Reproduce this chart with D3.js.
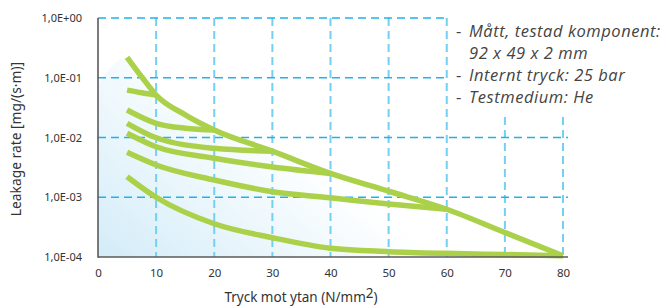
<!DOCTYPE html>
<html>
<head>
<meta charset="utf-8">
<script src="https://cdn.jsdelivr.net/npm/d3@7"></script>
<style>
  body { margin: 0; background: #fff; }
  svg { display: block; }
  text { font-family: "Noto Sans", sans-serif; fill: #333; }
</style>
</head>
<body>
<svg id="chart" width="667" height="308"></svg>
<script>
// tick values and labels
xTicks = [0, 10, 20, 30, 40, 50, 60, 70, 80]
yTicks = [1e-4, 1e-3, 1e-2, 1e-1, 1]
yTickLabels = ["1,0E-04", "1,0E-03", "1,0E-02", "1,0E-01", "1,0E+00"]

// curves: [pressure, leakage]
envelope = [[5, 0.22], [7.5, 0.104], [10, 0.0514], [15, 0.024], [20, 0.0134], [30, 0.0059],
            [40, 0.0025], [50, 0.00126], [60, 0.00063], [70, 0.000257], [80, 0.000105]]
curve2 = [[5, 0.062], [7.5, 0.056], [10, 0.0514]]
curve3 = [[5, 0.0289], [10, 0.0173], [15, 0.0143], [20, 0.0134]]
curve4 = [[5, 0.0173], [10, 0.0099], [20, 0.0066], [30, 0.0059]]
curve5 = [[5, 0.0118], [10, 0.0070], [20, 0.0045], [30, 0.0032], [40, 0.0025]]
curve6 = [[5, 0.00565], [10, 0.00347], [20, 0.00194], [30, 0.00124], [40, 0.00098], [50, 0.00077], [60, 0.00063]]
curve7 = [[5, 0.00221], [10, 0.001], [20, 0.00036], [30, 0.00021], [40, 0.00014], [50, 0.000123],
          [60, 0.000115], [70, 0.00011], [80, 0.000105]]

notes = [
  {dash: "-", text: "Mått, testad komponent:"},
  {dash: "", text: "92 x 49 x 2 mm"},
  {dash: "-", text: "Internt tryck: 25 bar"},
  {dash: "-", text: "Testmedium: He"}
]

svg = d3.select("#chart")
x = d3.scaleLinear().domain([0, 80]).range([98, 563])
y = d3.scaleLog().domain([1e-4, 1]).range([257, 18])

// gradient fill under the upper curve
defs = svg.append("defs")
grad = defs.append("linearGradient").attr("id", "fillgrad")
  .attr("gradientUnits", "userSpaceOnUse")
  .attr("x1", 98).attr("y1", 257).attr("x2", 260).attr("y2", 50)
grad.append("stop").attr("offset", 0).attr("stop-color", "#d3ecf8")
grad.append("stop").attr("offset", 0.45).attr("stop-color", "#ecf7fc")
grad.append("stop").attr("offset", 0.8).attr("stop-color", "#ffffff")

fillData = [[x.domain()[0], 0.08]].concat(envelope)
svg.append("path").datum(fillData)
  .attr("fill", "url(#fillgrad)")
  .attr("d", d3.area().x(d => x(d[0])).y0(y(1e-4)).y1(d => y(d[1])).curve(d3.curveMonotoneX))

// grid
grid = svg.append("g").attr("id", "grid")
grid.selectAll(".vgrid").data(xTicks.slice(1)).join("line").attr("class", "vgrid")
  .attr("x1", d => x(d)).attr("x2", d => x(d))
  .attr("y1", d => d > 60 ? 117 : y(1)).attr("y2", y(1e-4))
  .attr("stroke", "#74cff3").attr("stroke-width", 2).attr("stroke-dasharray", "8,5")
grid.selectAll(".hgrid").data(yTicks.slice(1)).join("line").attr("class", "hgrid")
  .attr("x1", x(0)).attr("x2", d => d > 0.05 ? x(60) : x(80) + 5)
  .attr("y1", d => y(d)).attr("y2", d => y(d))
  .attr("stroke", "#1fb3ec").attr("stroke-width", 1.5).attr("stroke-dasharray", "8,5")

// curves
line = d3.line().x(d => x(d[0])).y(d => y(d[1])).curve(d3.curveMonotoneX)
svg.append("g").selectAll("path")
  .data([curve7, curve6, curve5, curve4, curve3, curve2, envelope])
  .join("path")
  .attr("d", line)
  .attr("fill", "none").attr("stroke", "#abd14a").attr("stroke-width", 5.5)
  .attr("stroke-linejoin", "round")

// axes
xAxis = svg.append("g").attr("transform", "translate(0," + y(1e-4) + ")")
  .call(d3.axisBottom(x).tickValues(xTicks).tickSize(0).tickPadding(12))
xAxis.select(".domain").remove()
xAxis.selectAll("text").style("font-size", "11.5px").style("fill", "#333").attr("font-family", null)

yAxis = svg.append("g").attr("transform", "translate(" + (x(0) - 16) + ",0)")
  .call(d3.axisLeft(y).tickValues(yTicks).tickFormat((d, i) => yTickLabels[i]).tickSize(0).tickPadding(0))
yAxis.select(".domain").remove()
yAxis.selectAll("text").style("font-size", "11px").style("fill", "#333").attr("font-family", null)

svg.append("line").attr("x1", x(0)).attr("x2", x(80) + 5).attr("y1", y(1e-4)).attr("y2", y(1e-4))
  .attr("stroke", "#5a5a5a").attr("stroke-width", 1.6)
svg.append("line").attr("x1", x(0)).attr("x2", x(0)).attr("y1", y(1)).attr("y2", y(1e-4) + 0.8)
  .attr("stroke", "#5a5a5a").attr("stroke-width", 1.6)

// axis titles
xt = svg.append("text").attr("x", 301).attr("y", 302).attr("text-anchor", "middle").style("font-size", "13.5px")
xt.append("tspan").text("Tryck mot ytan (N/mm")
xt.append("tspan").attr("dy", -4).text("2")
xt.append("tspan").attr("dy", 4).text(")")

svg.append("text").attr("transform", "translate(21,139) rotate(-90)")
  .attr("text-anchor", "middle").style("font-size", "13.8px")
  .text("Leakage rate [mg/(s·m)]")

// notes on the right
nt = svg.append("g")
nt.selectAll(".dash").data(notes).join("text").attr("class", "dash")
  .attr("x", 456).attr("y", (d, i) => 37 + i * 22)
  .style("font-size", "16.5px").style("fill", "#444").style("font-family", "'Open Sans'").text(d => d.dash)
nt.selectAll(".note").data(notes).join("text").attr("class", "note")
  .attr("x", 469).attr("y", (d, i) => 37 + i * 22)
  .style("font-size", "16.5px").style("font-style", "italic").style("letter-spacing", "0.55px").style("fill", "#444")
  .style("font-family", "'Open Sans'").text(d => d.text)
</script>
</body>
</html>
